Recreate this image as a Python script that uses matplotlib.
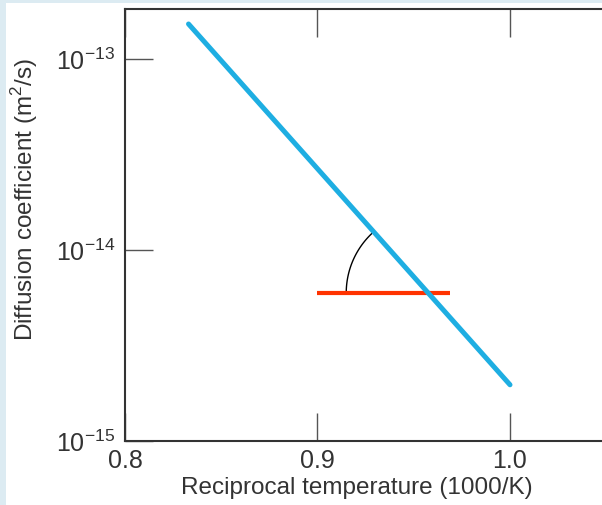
import numpy as np
import matplotlib.pyplot as plt
from matplotlib.patches import Rectangle

# data
line_x = [0.833, 1.0]           # reciprocal temperature (1000/K)
line_d = [1.53e-13, 1.97e-15]   # diffusion coefficient (m2/s)
ref_x = [0.9, 0.969]            # red horizontal reference line
ref_d = [5.96e-15, 5.96e-15]
xticks = [0.8, 0.9, 1.0]
xticklabels = ['0.8', '0.9', '1.0']
yticks = [1e-15, 1e-14, 1e-13]
yticklabels = ['$10^{-15}$', '$10^{-14}$', '$10^{-13}$']

plt.rcParams['font.family'] = ['Liberation Sans', 'DejaVu Sans']
plt.rcParams['mathtext.fontset'] = 'custom'
plt.rcParams['mathtext.rm'] = 'Liberation Sans'

W, H = 602, 505
fig = plt.figure(figsize=(W / 100, H / 100), dpi=100)
fig.patch.set_facecolor('white')
# light blue screenshot strips on the left and top edges
fig.add_artist(Rectangle((0, 0), 6 / W, 1, transform=fig.transFigure, color='#dcebf2', lw=0))
fig.add_artist(Rectangle((0, 1 - 3 / H), 1, 3 / H, transform=fig.transFigure, color='#dcebf2', lw=0))

# axes: left spine at 125 px, bottom at 441 px, top at 9 px, x=1.1 at ~702 px (off the image)
left, right = 125, 702.5
bottom, top = 441, 9
ax = fig.add_axes([left / W, 1 - bottom / H, (right - left) / W, (bottom - top) / H])
ax.set_yscale('log')
ax.set_xlim(0.8, 1.1)
ax.set_ylim(1e-15, 10 ** (-13 + 50 / 190))

ax.plot(line_x, line_d, color='#1eaee2', lw=3.6, solid_capstyle='round', zorder=3)
ax.plot(ref_x, ref_d, color='#ff3300', lw=3.0, solid_capstyle='butt', zorder=2)

# angle arc around the crossing of the two lines (drawn in pixel space)
fig.canvas.draw()
slope = (np.log10(line_d[1]) - np.log10(line_d[0])) / (line_x[1] - line_x[0])
xc = line_x[0] + (np.log10(ref_d[0]) - np.log10(line_d[0])) / slope
pc = ax.transData.transform((xc, ref_d[0]))
p0 = ax.transData.transform((line_x[0], line_d[0]))
a_line = np.arctan2(p0[1] - pc[1], p0[0] - pc[0])
r = 82
t = np.linspace(a_line, np.pi, 60)
pts = np.column_stack([pc[0] + r * np.cos(t), pc[1] + r * np.sin(t)])
arc = ax.transData.inverted().transform(pts)
ax.plot(arc[:, 0], arc[:, 1], color='black', lw=1.0, zorder=1)

ax.set_xticks(xticks)
ax.set_xticklabels(xticklabels)
ax.set_yticks(yticks)
ax.set_yticklabels(yticklabels)
ax.yaxis.set_minor_locator(plt.NullLocator())
ax.tick_params(which='both', direction='in', length=20, width=1.0, color='#555555',
               top=True, right=True, labelsize=18, labelcolor='#333333')
ax.tick_params(axis='x', pad=6)
ax.tick_params(axis='y', pad=7)
for s in ax.spines.values():
    s.set_linewidth(1.5)
    s.set_color('#333333')

ax.set_xlabel('Reciprocal temperature (1000/K)', fontsize=17.5, color='#333333')
ax.set_ylabel('Diffusion coefficient (m$^2$/s)', fontsize=17.5, color='#333333')
ax.xaxis.set_label_coords(0.401, -0.084)
ax.yaxis.set_label_coords(-0.147, 0.558)

fig.savefig('out.png', dpi=100)
